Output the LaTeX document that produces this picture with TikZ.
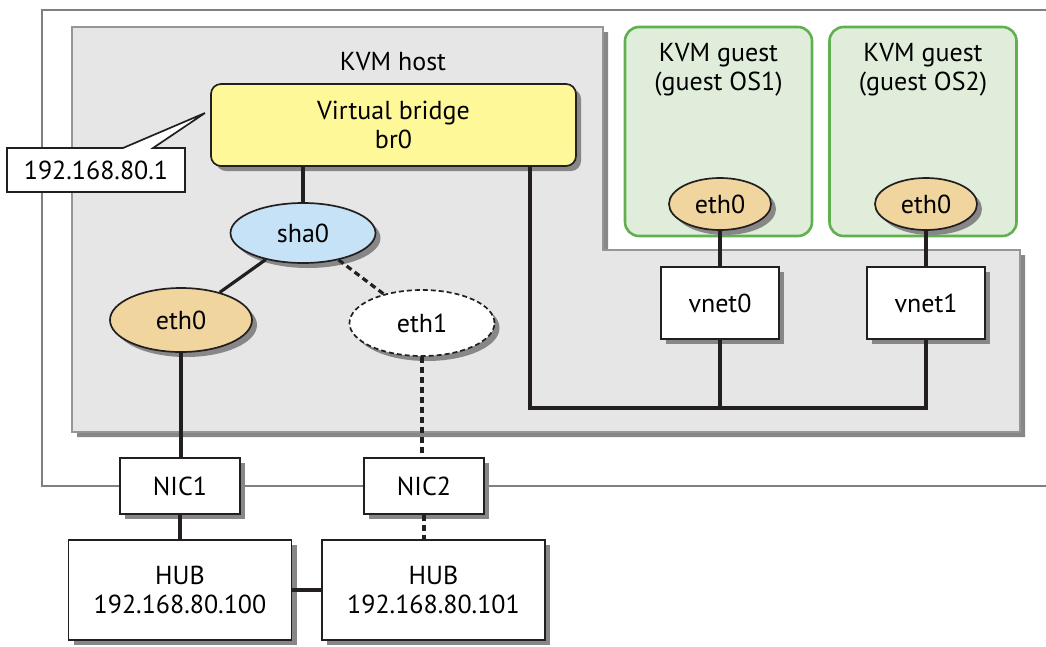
\documentclass[tikz,border=0pt]{standalone}
\usepackage{fontspec}
\setmainfont{PT Sans}
\usetikzlibrary{positioning,shapes.geometric,shapes.callouts,shadows}
\definecolor{hostgray}{RGB}{230,230,230}
\definecolor{edgegray}{RGB}{150,150,150}
\definecolor{framegray}{RGB}{128,128,128}
\definecolor{shadowgray}{RGB}{135,135,135}
\definecolor{bridgeyellow}{RGB}{255,248,153}
\definecolor{bondblue}{RGB}{197,226,246}
\definecolor{ethtan}{RGB}{240,213,158}
\definecolor{guestgreen}{RGB}{223,237,218}
\definecolor{guestedge}{RGB}{96,176,80}
\definecolor{linkblack}{RGB}{35,31,32}

\begin{document}
\begin{tikzpicture}[x=1pt, y=-1pt, font=\fontsize{26}{29}\selectfont,
      shad/.style={drop shadow={shadow xshift=5pt, shadow yshift=-5pt,
                   fill=shadowgray, opacity=1}},
      box/.style={draw=linkblack, line width=1.7pt, fill=white, shad,
                  align=center, inner sep=0pt},
      nic/.style={box, minimum width=120pt, minimum height=56pt},
      hub/.style={box, minimum width=223pt, minimum height=100pt},
      vnet/.style={box, minimum width=118pt, minimum height=72pt},
      port/.style={ellipse, draw=linkblack, line width=1.7pt, shad,
                   inner sep=0pt},
      guest/.style={draw=guestedge, line width=2.6pt, fill=guestgreen,
                    rounded corners=14pt, minimum width=187pt,
                    minimum height=209pt},
      link/.style={draw=linkblack, line width=3.2pt}
    ]
    \useasboundingbox (0,0) rectangle (1046,646);

    % server frame
    \draw[framegray, line width=2.4pt] (1046,10) -- (42,10) -- (42,486) -- (1046,486);

    % KVM host area
    \fill[shadowgray, shift={(5,5)}] (72,27) -- (603,27) -- (603,250)
      -- (1020,250) -- (1020,432) -- (72,432) -- cycle;
    \filldraw[fill=hostgray, draw=edgegray, line width=1.4pt] (72,27) -- (603,27)
      -- (603,250) -- (1020,250) -- (1020,432) -- (72,432) -- cycle;
    \node (host) at (393,62) {KVM host};

    \node[box, fill=bridgeyellow, rounded corners=10pt, minimum width=365pt,
          minimum height=82pt] (br) at (393.5,125) {Virtual bridge\\br0};
    \node[port, fill=bondblue, minimum width=145pt, minimum height=60pt]
      (sha) at (303,233) {sha0};
    \node[port, fill=ethtan, minimum width=142pt, minimum height=64pt]
      (e0) at (181,320) {eth0};
    \node[port, fill=white, dash pattern=on 5pt off 3pt, minimum width=145pt,
          minimum height=66pt] (e1) at (422,323) {eth1};

    \coordinate (tip) at (205,113);
    \node[rectangle callout, draw=linkblack, line width=1.7pt, fill=white,
          minimum width=178pt, minimum height=44pt, inner sep=0pt,
          callout pointer width=30pt,
          callout absolute pointer=(tip)] (ip) at (96,170) {192.168.80.1};

    % guests
    \node[guest] (g1) at (718.5,131.5) {};
    \node[guest] (g2) at (923,131.5) {};
    \node[align=center, anchor=north] (t1) at ([yshift=-14pt]g1.north)
      {KVM guest\\(guest OS1)};
    \node[align=center, anchor=north] (t2) at ([yshift=-14pt]g2.north)
      {KVM guest\\(guest OS2)};
    \node[port, fill=ethtan, minimum width=102pt, minimum height=52pt]
      (ge1) at (720,204) {eth0};
    \node[port, fill=ethtan, minimum width=102pt, minimum height=52pt]
      (ge2) at (926,204) {eth0};

    \node[vnet] (vn0) at (720,303) {vnet0};
    \node[vnet] (vn1) at (926,303) {vnet1};

    \node[nic] (nic1) at (180,486) {NIC1};
    \node[nic] (nic2) at (424,486) {NIC2};
    \node[hub] (hub1) at (180,590) {HUB\\192.168.80.100};
    \node[hub] (hub2) at (433.5,590) {HUB\\192.168.80.101};

    \draw[link] (br.south -| sha.north) -- (sha.north);
    \draw[link] (sha) -- (e0);
    \draw[link, dash pattern=on 6pt off 4pt] (sha) -- (e1);
    \draw[link] (e0.south) -- (e0.south |- nic1.north);
    \draw[link, dash pattern=on 6pt off 4pt] (e1.south) -- (e1.south |- nic2.north);
    \draw[link] (nic1.south) -- (nic1.south |- hub1.north);
    \draw[link, dash pattern=on 6pt off 4pt] (nic2.south) -- (nic2.south |- hub2.north);
    \draw[link] (hub1) -- (hub2);
    \draw[link] (ge1) -- (vn0);
    \draw[link] (ge2) -- (vn1);

    \coordinate (busL) at (530,408);
    \draw[link] (br.south -| busL) -- (busL) -| (vn1.south);
    \draw[link] (vn0.south) -- (vn0.south |- busL);
  \end{tikzpicture}
\end{document}
